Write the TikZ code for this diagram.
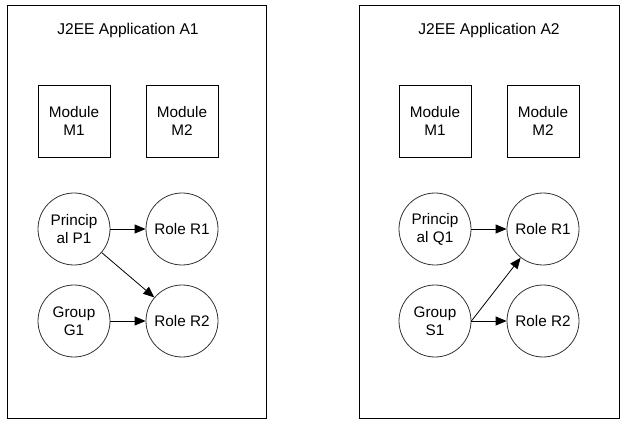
\documentclass[tikz,border=0pt]{standalone}
\usepackage{fontspec}
\setmainfont{Liberation Sans}
\usetikzlibrary{arrows.meta}
\begin{document}
\begin{tikzpicture}[x=1pt,y=-1pt,
  panel/.style={draw=black,line width=0.8pt},
  modbox/.style={draw=black,line width=0.8pt,minimum width=72pt,minimum height=72pt,inner sep=0pt,align=center,font=\fontsize{15.3}{18}\selectfont},
  circ/.style={circle,draw=black!80,line width=0.8pt,minimum size=72pt,inner sep=0pt,align=center,font=\fontsize{15.3}{18}\selectfont},
  ttl/.style={font=\fontsize{15.6}{18}\selectfont},
  conn/.style={draw=black,line width=0.8pt,-{Triangle[length=11pt,width=9pt]}}]
\useasboundingbox (0,0) rectangle (627,425);
% Panel A1
\node[panel,minimum width=259pt,minimum height=413pt,inner sep=0pt] (pA) at (136.5,211.5) {};
\node[ttl] (tA) at (128,30) {J2EE Application A1};
\node[modbox] (m1a) at (74,121) {Module\\M1};
\node[modbox] (m2a) at (182,121) {Module\\M2};
\node[circ] (p1) at (74,229) {Princip\\al P1};
\node[circ] (r1a) at (182,229) {Role R1};
\node[circ] (g1) at (74,321) {Group\\G1};
\node[circ] (r2a) at (182,321) {Role R2};
\draw[conn] (p1) -- (r1a);
\draw[conn] (p1) -- (r2a);
\draw[conn] (g1) -- (r2a);
% Panel A2
\node[panel,minimum width=260pt,minimum height=413pt,inner sep=0pt] (pB) at (489,211.5) {};
\node[ttl] (tB) at (489,30) {J2EE Application A2};
\node[modbox] (m1b) at (435,121) {Module\\M1};
\node[modbox] (m2b) at (543,121) {Module\\M2};
\node[circ] (q1) at (435,229) {Princip\\al Q1};
\node[circ] (r1b) at (543,229) {Role R1};
\node[circ] (s1) at (435,321) {Group\\S1};
\node[circ] (r2b) at (543,321) {Role R2};
\draw[conn] (q1) -- (r1b);
\draw[conn] (s1.east) -- (r1b);
\draw[conn] (s1) -- (r2b);
\end{tikzpicture}
\end{document}
